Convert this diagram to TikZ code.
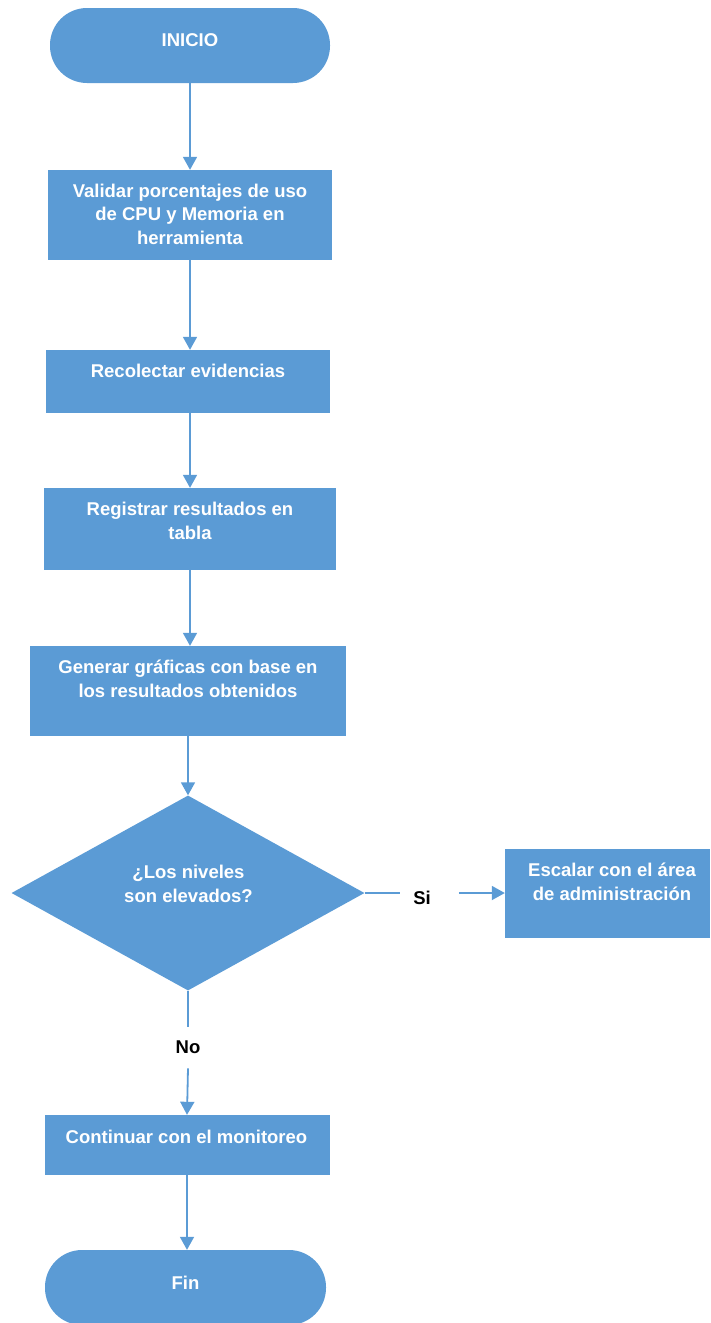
\documentclass[tikz,border=0pt]{standalone}
\usepackage{fontspec}
\setmainfont{Liberation Sans}
\usetikzlibrary{arrows.meta,shapes.geometric,positioning}
\definecolor{flujo}{RGB}{91,155,213}

\begin{document}
\begin{tikzpicture}[x=1pt, y=-1pt,
    caja/.style={fill=flujo, draw=none, inner sep=0pt},
    extremo/.style={caja, rounded corners=37pt},
    decision/.style={caja, shape=diamond},
    texto/.style={anchor=base, text=white, align=center, inner sep=0pt, font=\bfseries\fontsize{18.5}{23.5}\selectfont},
    rama/.style={text=black, inner sep=0pt, font=\bfseries\fontsize{18.5}{23.5}\selectfont},
    linea/.style={draw=flujo, line width=1.8pt},
    flecha/.style={linea, -{Triangle[width=14pt,length=13pt]}}]

    \useasboundingbox (0,0) rectangle (710,1323);

    % Inicio
    \node[extremo, minimum width=280pt, minimum height=75pt] (inicio) at (190,45.5) {};
    \node[texto] (inicioT) at (190,46.5) {INICIO};

    % Pasos del proceso (texto anclado en la ultima linea)
    \node[caja, minimum width=284pt, minimum height=90pt] (validar) at (190,215) {};
    \node[texto] (validarT) at (190,244) {Validar porcentajes de uso\\de CPU y Memoria en\\herramienta};

    \node[caja, minimum width=284pt, minimum height=63pt] (evidencias) at (188,381.5) {};
    \node[texto] (evidenciasT) at (188,377) {Recolectar evidencias};

    \node[caja, minimum width=292pt, minimum height=82pt] (registrar) at (190,529) {};
    \node[texto] (registrarT) at (190,539) {Registrar resultados en\\tabla};

    \node[caja, minimum width=316pt, minimum height=90pt] (graficas) at (188,691) {};
    \node[texto] (graficasT) at (188,697) {Generar gráficas con base en\\los resultados obtenidos};

    % Decision
    \node[decision, minimum width=353pt, minimum height=195pt] (niveles) at (188,893) {};
    \node[texto] (nivelesT) at (188.5,902) {¿Los niveles\\son elevados?};

    \node[caja, minimum width=205pt, minimum height=89pt] (escalar) at (607.5,893) {};
    \node[texto] (escalarT) at (612,900) {Escalar con el área\\de administración};

    \node[caja, minimum width=285pt, minimum height=60pt] (continuar) at (187,1145) {};
    \node[texto] (continuarT) at (186.5,1143) {Continuar con el monitoreo};

    % Fin
    \node[extremo, minimum width=281pt, minimum height=75pt] (fin) at (185.5,1287.5) {};
    \node[texto] (finT) at (185.5,1289) {Fin};

    % Etiquetas de las ramas
    \node[rama, text height=22pt, text depth=0pt] (si) at (422,893) {Si};
    \node[rama, anchor=base] (no) at (188,1053) {No};

    % Conectores
    \draw[flecha] (inicio.south) -- (validar.north);
    \draw[flecha] (validar.south) -- (validar.south |- evidencias.north);
    \draw[flecha] (evidencias.south -| validar.south) -- (registrar.north);
    \draw[flecha] (registrar.south) -- (registrar.south |- graficas.north);
    \draw[flecha] (graficas.south) -- (niveles.north);
    \draw[linea] (niveles.east) -- ([xshift=-13pt]si.west);
    \draw[flecha] ([xshift=28pt]si.east) -- (escalar.west);
    \draw[linea] (niveles.south) -- ([yshift=13pt]no.north);
    \draw[flecha] ([yshift=-15pt]no.south) -- (continuar.north);
    \draw[flecha] (continuar.south) -- (continuar.south |- fin.north);

\end{tikzpicture}
\end{document}
